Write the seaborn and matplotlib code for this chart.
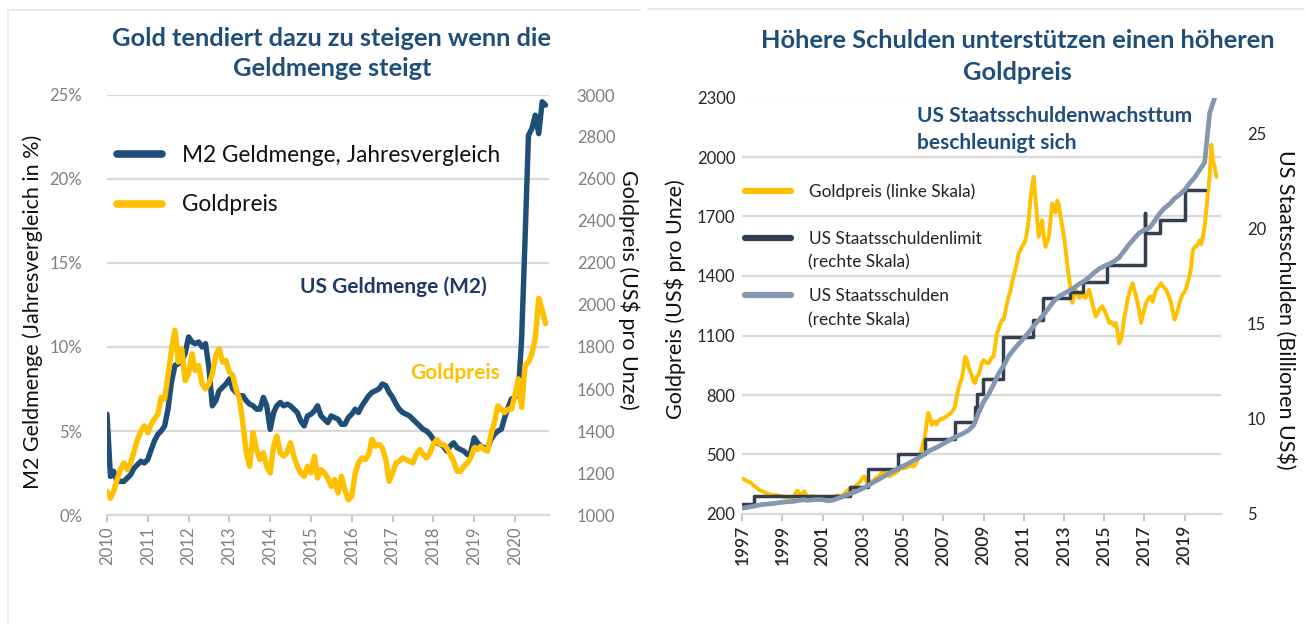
import numpy as np
import pandas as pd
import matplotlib
matplotlib.use("Agg")
import matplotlib.pyplot as plt
import seaborn as sns
from matplotlib.lines import Line2D
from matplotlib.legend import Legend

sns.set_theme(style="white")
plt.rcParams["font.family"] = ["Lato", "DejaVu Sans"]

# ---------------- data: left panel (monthly, Jan 2010 - Oct 2020) ----------------
m2_yoy = [6.0, 2.3, 2.6, 2.0, 2.0, 2.0, 2.2, 2.4, 2.8, 3.0, 3.2, 3.1,
          3.3, 3.9, 4.4, 4.8, 5.0, 5.3, 6.3, 7.9, 8.9, 9.0, 9.2, 9.6,
          10.6, 10.3, 10.2, 10.3, 10.0, 10.2, 8.8, 6.5, 6.8, 7.4, 7.6, 7.8,
          8.1, 7.5, 7.3, 7.1, 7.1, 6.8, 6.6, 6.5, 6.3, 6.3, 7.0, 6.5,
          5.1, 6.1, 6.5, 6.7, 6.5, 6.6, 6.5, 6.3, 6.1, 5.6, 5.3, 5.9,
          6.0, 6.2, 6.5, 5.9, 5.7, 5.5, 5.9, 5.8, 5.7, 5.4, 5.4, 5.8,
          6.0, 6.3, 6.1, 6.5, 6.8, 7.1, 7.3, 7.4, 7.5, 7.8, 7.7, 7.3,
          7.0, 6.6, 6.3, 6.1, 6.0, 5.9, 5.7, 5.5, 5.3, 5.1, 5.0, 4.8,
          4.5, 4.3, 4.2, 4.1, 3.8, 4.1, 4.3, 4.0, 3.9, 3.8, 3.6, 3.7,
          4.6, 4.3, 4.1, 4.0, 4.0, 4.5, 4.8, 5.0, 5.1, 5.8, 6.4, 6.9,
          7.0, 7.3, 10.5, 16.5, 22.6, 23.0, 23.8, 22.7, 24.6, 24.4]

gold_left = [1112, 1080, 1112, 1168, 1216, 1248, 1216, 1248, 1304, 1360, 1400, 1424,
             1392, 1432, 1456, 1480, 1560, 1552, 1664, 1784, 1880, 1728, 1792, 1640,
             1672, 1768, 1688, 1712, 1624, 1600, 1624, 1672, 1760, 1792, 1728, 1736,
             1680, 1664, 1600, 1552, 1440, 1296, 1232, 1392, 1312, 1264, 1296, 1232,
             1200, 1328, 1376, 1296, 1280, 1296, 1344, 1280, 1232, 1200, 1184, 1232,
             1200, 1280, 1176, 1216, 1200, 1176, 1136, 1168, 1104, 1184, 1120, 1072,
             1088, 1200, 1248, 1272, 1264, 1288, 1360, 1328, 1336, 1320, 1264, 1160,
             1200, 1248, 1256, 1272, 1264, 1256, 1248, 1288, 1312, 1288, 1272, 1296,
             1336, 1360, 1336, 1336, 1320, 1288, 1256, 1208, 1208, 1232, 1248, 1272,
             1320, 1312, 1328, 1312, 1304, 1384, 1440, 1520, 1504, 1488, 1504, 1504,
             1568, 1648, 1512, 1712, 1728, 1768, 1840, 2032, 1976, 1912]

left_years = list(range(2010, 2021))
left_pct_ticks = [0, 5, 10, 15, 20, 25]
left_gold_ticks = list(range(1000, 3001, 200))

# ---------------- data: right panel ----------------
# gold price, monthly Jan 1997 - Aug 2020 (US$ per ounce)
gold_right = [378, 375, 370, 365, 362, 358, 350, 342, 336, 330, 322, 318,
              315, 310, 306, 303, 300, 298, 296, 295, 297, 294, 292, 290,
              288, 286, 287, 285, 284, 283, 282, 285, 310, 318, 305, 300,
              305, 315, 300, 288, 285, 288, 290, 287, 285, 283, 280, 282,
              278, 276, 275, 272, 278, 280, 276, 280, 292, 295, 290, 288,
              295, 305, 312, 318, 325, 335, 330, 335, 345, 350, 360, 370,
              385, 390, 365, 350, 355, 365, 360, 375, 385, 385, 395, 405,
              410, 408, 405, 400, 390, 395, 400, 405, 410, 420, 430, 440,
              430, 430, 435, 438, 442, 445, 440, 445, 460, 480, 495, 520,
              560, 590, 650, 710, 690, 650, 660, 665, 650, 670, 675, 680,
              680, 690, 692, 700, 705, 715, 724, 740, 790, 830, 860, 880,
              930, 993, 980, 943, 920, 900, 870, 860, 893, 900, 930, 960,
              976, 970, 960, 960, 975, 990, 993, 1050, 1111, 1130, 1160, 1178,
              1180, 1220, 1260, 1296, 1320, 1363, 1400, 1430, 1470, 1514, 1530, 1550,
              1560, 1581, 1620, 1682, 1780, 1850, 1901, 1800, 1700, 1598, 1640, 1682,
              1600, 1547, 1570, 1598, 1680, 1766, 1740, 1720, 1780, 1760, 1700, 1650,
              1600, 1531, 1460, 1396, 1330, 1264, 1300, 1331, 1310, 1290, 1300, 1297,
              1300, 1290, 1310, 1331, 1300, 1260, 1230, 1196, 1210, 1230, 1240, 1247,
              1230, 1210, 1190, 1163, 1170, 1160, 1150, 1163, 1120, 1060, 1080, 1120,
              1190, 1230, 1280, 1314, 1340, 1364, 1330, 1300, 1264, 1220, 1163, 1200,
              1230, 1264, 1280, 1290, 1297, 1270, 1300, 1331, 1340, 1350, 1364, 1350,
              1340, 1331, 1310, 1290, 1264, 1220, 1180, 1200, 1230, 1264, 1290, 1310,
              1320, 1340, 1370, 1400, 1450, 1530, 1545, 1550, 1560, 1580, 1560, 1600,
              1650, 1734, 1820, 1902, 2062, 1980, 1952, 1900]

# federal debt, quarterly 1997Q1 - 2020Q3 (trillion US$)
debt = [5.30, 5.35, 5.40, 5.45, 5.50, 5.52, 5.55, 5.58, 5.62, 5.65, 5.66, 5.70,
        5.75, 5.72, 5.74, 5.76, 5.75, 5.70, 5.72, 5.82, 5.92, 6.02, 6.12, 6.22,
        6.35, 6.50, 6.65, 6.80, 6.95, 7.10, 7.25, 7.40, 7.52, 7.65, 7.80, 7.95,
        8.10, 8.30, 8.42, 8.55, 8.70, 8.85, 9.00, 9.12, 9.25, 9.40, 9.65, 10.30,
        10.90, 11.30, 11.80, 12.40, 12.80, 13.30, 13.65, 13.95, 14.25, 14.55, 14.90, 15.20,
        15.50, 15.85, 16.20, 16.45, 16.60, 16.75, 16.90, 17.10, 17.25, 17.45, 17.70, 17.90,
        18.05, 18.15, 18.30, 18.50, 18.85, 19.20, 19.50, 19.80, 19.95, 20.05, 20.40, 20.80,
        21.10, 21.30, 21.60, 21.80, 22.05, 22.40, 22.70, 23.10, 23.50, 26.10, 26.90]

# statutory debt limit (trillion US$), step changes
limit_dates = ["1997-01-01", "1997-07-30", "2002-05-08", "2003-04-05", "2004-10-05",
               "2006-02-01", "2007-07-30", "2008-07-30", "2008-08-28", "2008-12-28",
               "2009-12-28", "2011-06-25", "2011-12-10", "2013-04-20", "2013-12-20",
               "2015-02-15", "2017-01-12", "2017-01-20", "2017-10-12", "2019-01-12",
               "2020-01-08"]
limit_vals = [5.50, 5.95, 6.40, 7.38, 8.18, 8.97, 9.82, 10.62, 11.32, 12.10,
              14.29, 15.19, 16.39, 16.70, 17.21, 18.11, 20.83, 19.81, 20.46, 22.03,
              22.03]

right_years = list(range(1997, 2020, 2))
right_gold_ticks = list(range(200, 2301, 300))
right_debt_ticks = [5, 10, 15, 20, 25]

# ---------------- styling ----------------
NAVY = "#1F4E79"
GOLD = "#FFC000"
LIMIT = "#333F4F"
DEBT = "#8497B0"
GRID = "#D9D9D9"
TITLE = "#1F4E79"
W, H = 1306, 624

df_left = pd.DataFrame({
    "date": pd.date_range("2010-01-01", periods=len(m2_yoy), freq="MS"),
    "m2": m2_yoy,
    "gold": gold_left,
})
df_rg = pd.DataFrame({
    "date": pd.date_range("1997-01-01", periods=len(gold_right), freq="MS"),
    "gold": gold_right,
})
df_debt = pd.DataFrame({
    "date": pd.date_range("1997-01-01", periods=len(debt), freq="QS"),
    "debt": debt,
})
df_lim = pd.DataFrame({"date": pd.to_datetime(limit_dates), "limit": limit_vals})

fig = plt.figure(figsize=(W / 100, H / 100), dpi=100)
fig.patch.set_facecolor("white")

# faint panel frames
fig.add_artist(Line2D([8 / W, 8 / W], [0, 1 - 10 / H], color="#E7E7E7", lw=1.2))
fig.add_artist(Line2D([8 / W, 640 / W], [1 - 10 / H, 1 - 10 / H], color="#E7E7E7", lw=1.2))
fig.add_artist(Line2D([648 / W, 1 - 2 / W], [1 - 9 / H, 1 - 9 / H], color="#E7E7E7", lw=1.2))


def style_axes(ax):
    for s in ax.spines.values():
        s.set_visible(False)


def legend_row(ax, color, lw, label, x_px, y_px, fs, hl, pad, tcolor="#111111"):
    leg = Legend(ax, [Line2D([], [], color=color, lw=lw)], [label],
                 loc="center left", bbox_to_anchor=(x_px / W, 1 - y_px / H),
                 bbox_transform=fig.transFigure, frameon=False, fontsize=fs,
                 handlelength=hl, handletextpad=pad, borderpad=0, borderaxespad=0)
    for t in leg.get_texts():
        t.set_color(tcolor)
    ax.add_artist(leg)
    return leg


# ================= LEFT PANEL =================
axL = fig.add_axes([107 / W, 109 / H, 442 / W, 420 / H])
axL2 = axL.twinx()
sns.lineplot(data=df_left, x="date", y="m2", ax=axL, color=NAVY, linewidth=3.9)
sns.lineplot(data=df_left, x="date", y="gold", ax=axL2, color=GOLD, linewidth=3.9)

axL.set_xlim(pd.Timestamp("2010-01-01"), pd.Timestamp("2020-11-01"))
axL.set_ylim(0, 25)
axL2.set_ylim(1000, 3000)
for a in (axL, axL2):
    style_axes(a)
    a.set_xlabel("")
    a.set_ylabel("")
axL.spines["bottom"].set_visible(True)
axL.spines["bottom"].set_color(GRID)
axL.spines["bottom"].set_linewidth(1.6)
axL.yaxis.grid(True, color=GRID, lw=1.6)
axL.set_axisbelow(True)

axL.set_yticks(left_pct_ticks)
axL.set_yticklabels([f"{v}%" for v in left_pct_ticks])
axL2.set_yticks(left_gold_ticks)
axL2.set_yticklabels([str(v) for v in left_gold_ticks])
axL.set_xticks([pd.Timestamp(f"{y}-01-01") for y in left_years])
axL.set_xticklabels([str(y) for y in left_years], rotation=90)
axL.tick_params(axis="y", length=0, pad=18, labelsize=12, labelcolor="#7F7F7F")
axL2.tick_params(axis="y", length=0, pad=20, labelsize=12, labelcolor="#7F7F7F")
axL.tick_params(axis="x", length=5, width=1.3, color="#BFBFBF", pad=3,
                labelsize=12, labelcolor="#7F7F7F", bottom=True)

fig.text(33 / W, 1 - 312 / H, "M2 Geldmenge (Jahresvergleich in %)", rotation=90,
         ha="center", va="center", fontsize=15.5, color="#111111")
fig.text(629 / W, 1 - 290 / H, "Goldpreis (US$ pro Unze)", rotation=270,
         ha="center", va="center", fontsize=15.5, color="#111111")

fig.text(331 / W, 1 - 38 / H, "Gold tendiert dazu zu steigen wenn die", ha="center",
         va="center", fontsize=18.3, fontweight="bold", color=TITLE)
fig.text(332 / W, 1 - 69 / H, "Geldmenge steigt", ha="center", va="center",
         fontsize=18.3, fontweight="bold", color=TITLE)

legend_row(axL2, NAVY, 5.5, "M2 Geldmenge, Jahresvergleich", 117, 155, 16.3, 2.0, 0.85)
legend_row(axL2, GOLD, 5.5, "Goldpreis", 117, 205, 16.3, 2.0, 0.85)

fig.text(300 / W, 1 - 287 / H, "US Geldmenge (M2)", ha="left", va="center",
         fontsize=15, fontweight="bold", color="#1F3864")
fig.text(410 / W, 1 - 373 / H, "Goldpreis", ha="left", va="center",
         fontsize=15, fontweight="bold", color=GOLD)

# ================= RIGHT PANEL =================
axR = fig.add_axes([742.3 / W, 110 / H, 478.2 / W, 416.5 / H])
axR2 = axR.twinx()
sns.lineplot(data=df_rg, x="date", y="gold", ax=axR, color=GOLD, linewidth=2.8)
sns.lineplot(data=df_lim, x="date", y="limit", ax=axR2, color=LIMIT, linewidth=2.5,
             drawstyle="steps-post")
sns.lineplot(data=df_debt, x="date", y="debt", ax=axR2, color=DEBT, linewidth=3.4)

axR.set_xlim(pd.Timestamp("1997-01-01"), pd.Timestamp("2020-10-15"))
axR.set_ylim(200, 2300)
axR2.set_ylim(5, 26.92)
for a in (axR, axR2):
    style_axes(a)
    a.set_xlabel("")
    a.set_ylabel("")
axR.spines["bottom"].set_visible(True)
axR.spines["bottom"].set_color(GRID)
axR.spines["bottom"].set_linewidth(1.6)
axR.yaxis.grid(True, color=GRID, lw=1.6)
axR.set_axisbelow(True)

axR.set_yticks(right_gold_ticks)
axR.set_yticklabels([str(v) for v in right_gold_ticks])
axR2.set_yticks(right_debt_ticks)
axR2.set_yticklabels([str(v) for v in right_debt_ticks])
axR.set_xticks([pd.Timestamp(f"{y}-01-01") for y in right_years])
axR.set_xticklabels([str(y) for y in right_years], rotation=90)
axR.tick_params(axis="y", length=0, pad=5, labelsize=12, labelcolor="#262626")
axR2.tick_params(axis="y", length=0, pad=19, labelsize=12, labelcolor="#262626")
axR.tick_params(axis="x", length=5, width=1.3, color="#BFBFBF", pad=3,
                labelsize=12.5, labelcolor="#262626", bottom=True)
for lab in axR.get_xticklabels():
    lab.set_fontweight("semibold")

fig.text(675 / W, 1 - 299 / H, "Goldpreis (US$ pro Unze)", rotation=90,
         ha="center", va="center", fontsize=15.5, color="#111111")
fig.text(1285 / W, 1 - 310 / H, "US Staatsschulden (Billionen US$)", rotation=270,
         ha="center", va="center", fontsize=15.5, color="#111111")

fig.text(1018 / W, 1 - 40 / H, "Höhere Schulden unterstützen einen höheren", ha="center",
         va="center", fontsize=18.3, fontweight="bold", color=TITLE)
fig.text(1017 / W, 1 - 72 / H, "Goldpreis", ha="center", va="center",
         fontsize=18.3, fontweight="bold", color=TITLE)

fig.text(917 / W, 1 - 116 / H, "US Staatsschuldenwachsttum", ha="left", va="center",
         fontsize=15, fontweight="bold", color=TITLE)
fig.text(917 / W, 1 - 143 / H, "beschleunigt sich", ha="left", va="center",
         fontsize=15, fontweight="bold", color=TITLE)

legend_row(axR2, GOLD, 4.5, "Goldpreis (linke Skala)", 745, 192, 12.4, 2.65, 1.05, "#222222")
legend_row(axR2, LIMIT, 4.5, "US Staatsschuldenlimit", 745, 239, 12.4, 2.65, 1.05, "#222222")
legend_row(axR2, DEBT, 4.5, "US Staatsschulden", 745, 296, 12.4, 2.65, 1.05, "#222222")
fig.text(808 / W, 1 - 262 / H, "(rechte Skala)", ha="left", va="center",
         fontsize=12.4, color="#222222")
fig.text(808 / W, 1 - 320 / H, "(rechte Skala)", ha="left", va="center",
         fontsize=12.4, color="#222222")

fig.savefig("out.png", dpi=100, facecolor="white")
